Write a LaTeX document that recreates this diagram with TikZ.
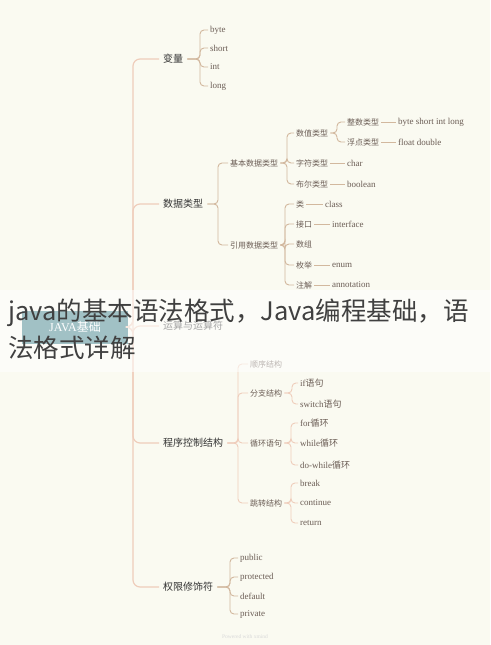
\documentclass[tikz,border=0pt]{standalone}
\usepackage{fontspec}
\setmainfont{Liberation Serif}
\newfontfamily\cjk{Noto Sans CJK SC}
\definecolor{paper}{HTML}{FAFAF1}
\definecolor{spine}{HTML}{EFCDBB}
\definecolor{twig}{HTML}{D2B89E}
\definecolor{rootbox}{HTML}{2F7680}
\definecolor{maintext}{HTML}{333333}
\definecolor{subtext}{HTML}{6B5D55}
\tikzset{
    link/.style={draw=twig, line width=0.9pt, rounded corners=4pt},
    mainlink/.style={draw=spine, line width=1.2pt, rounded corners=7pt},
    topic/.style={anchor=west, inner sep=4pt, font=\cjk\fontsize{10}{12}\selectfont, text=maintext},
    sub/.style={anchor=west, inner sep=2pt, font=\cjk\fontsize{8}{10}\selectfont, text=subtext},
    leaf/.style={anchor=west, inner sep=2pt, font=\fontsize{9}{11}\selectfont, text=subtext},
}
\newcommand\zh[1]{{\cjk #1}}
\begin{document}
\begin{tikzpicture}[x=1pt, y=-1pt]
    \useasboundingbox[fill=paper] (0,0) rectangle (490,645);
    % root and main topics
    \node[fill=rootbox, minimum width=106pt, minimum height=33pt, text=white,
          font=\fontsize{12}{14}\selectfont] (root) at (75,327) {JAVA\zh{基础}};
    \node[topic] (bl) at (159,59) {变量};
    \node[topic] (sj) at (159,204) {数据类型};
    \node[topic] (ys) at (159,326) {运算与运算符};
    \node[topic] (cx) at (159,443) {程序控制结构};
    \node[topic] (qx) at (159,587) {权限修饰符};
    \foreach \m in {bl,sj,ys,cx,qx}
        \draw[mainlink] (root.east) -| ([xshift=-26pt]\m.west) -- (\m.west);

    % 变量
    \node[leaf] (byte) at (208,30) {byte};
    \node[leaf] (short) at (208,48) {short};
    \node[leaf] (int) at (208,67) {int};
    \node[leaf] (long) at (208,86) {long};
    \foreach \c in {byte,short,int,long}
        \draw[link] (bl.east) -| ([xshift=-8pt]\c.west) -- (\c.west);

    % 数据类型
    \node[sub] (jb) at (228,163) {基本数据类型};
    \node[sub] (yy) at (228,245) {引用数据类型};
    \foreach \c in {jb,yy}
        \draw[link] (sj.east) -| ([xshift=-10pt]\c.west) -- (\c.west);

    \node[sub] (sz) at (294,133) {数值类型};
    \node[sub] (zf) at (294,163) {字符类型};
    \node[sub] (be) at (294,184) {布尔类型};
    \foreach \c in {sz,zf,be}
        \draw[link] (jb.east) -| ([xshift=-7pt]\c.west) -- (\c.west);

    \node[sub] (zs) at (345,122) {整数类型};
    \node[sub] (fd) at (345,142) {浮点类型};
    \foreach \c in {zs,fd}
        \draw[link] (sz.east) -| ([xshift=-8pt]\c.west) -- (\c.west);
    \node[leaf] (zsv) at (396,122) {byte short int long};
    \node[leaf] (fdv) at (396,142) {float double};
    \node[leaf] (zfv) at (345,163) {char};
    \node[leaf] (bev) at (345,184) {boolean};
    \draw[link] (zs) -- (zsv);
    \draw[link] (fd) -- (fdv);
    \draw[link] (zf) -- (zfv);
    \draw[link] (be) -- (bev);

    \node[sub] (lei) at (294,204) {类};
    \node[sub] (jk) at (294,224) {接口};
    \node[sub] (shz) at (294,244) {数组};
    \node[sub] (mj) at (294,265) {枚举};
    \node[sub] (zj) at (294,285) {注解};
    \foreach \c in {lei,jk,shz,mj,zj}
        \draw[link] (yy.east) -| ([xshift=-9pt]\c.west) -- (\c.west);
    \node[leaf] (leiv) at (323,204) {class};
    \node[leaf] (jkv) at (330,224) {interface};
    \node[leaf] (mjv) at (330,265) {enum};
    \node[leaf] (zjv) at (330,285) {annotation};
    \draw[link] (lei) -- (leiv);
    \draw[link] (jk) -- (jkv);
    \draw[link] (mj) -- (mjv);
    \draw[link] (zj) -- (zjv);

    % 程序控制结构
    \node[sub] (sx) at (248,364) {顺序结构};
    \node[sub] (fz) at (248,393) {分支结构};
    \node[sub] (xh) at (248,443) {循环语句};
    \node[sub] (tz) at (248,503) {跳转结构};
    \foreach \c in {sx,fz,xh,tz}
        \draw[link, draw=spine] (cx.east) -| ([xshift=-10pt]\c.west) -- (\c.west);

    \node[leaf] (if) at (298,383) {if\zh{语句}};
    \node[leaf] (sw) at (298,404) {switch\zh{语句}};
    \foreach \c in {if,sw}
        \draw[link, draw=spine] (fz.east) -| ([xshift=-6pt]\c.west) -- (\c.west);
    \node[leaf] (for) at (298,423) {for\zh{循环}};
    \node[leaf] (wh) at (298,443) {while\zh{循环}};
    \node[leaf] (dw) at (298,465) {do-while\zh{循环}};
    \foreach \c in {for,wh,dw}
        \draw[link, draw=spine] (xh.east) -| ([xshift=-7pt]\c.west) -- (\c.west);
    \node[leaf] (brk) at (298,483) {break};
    \node[leaf] (con) at (298,503) {continue};
    \node[leaf] (ret) at (298,523) {return};
    \foreach \c in {brk,con,ret}
        \draw[link, draw=spine] (tz.east) -| ([xshift=-7pt]\c.west) -- (\c.west);

    % 权限修饰符
    \node[leaf] (pub) at (238,558) {public};
    \node[leaf] (pro) at (238,577) {protected};
    \node[leaf] (def) at (238,596) {default};
    \node[leaf] (pri) at (238,614) {private};
    \foreach \c in {pub,pro,def,pri}
        \draw[link] (qx.east) -| ([xshift=-8pt]\c.west) -- (\c.west);

    \node[text=black!15, font=\fontsize{5.5}{7}\selectfont] (pw) at (245,637) {Powered with xmind};

    % title band over the map
    \fill[white, opacity=0.55] (0,290) rectangle (490,372);
    \node[anchor=north west, inner sep=0pt, align=left,
          font=\cjk\fontsize{25.5}{37}\selectfont, text=black!75] (title) at (8,299)
          {java的基本语法格式，Java编程基础，语\\法格式详解};
\end{tikzpicture}
\end{document}
